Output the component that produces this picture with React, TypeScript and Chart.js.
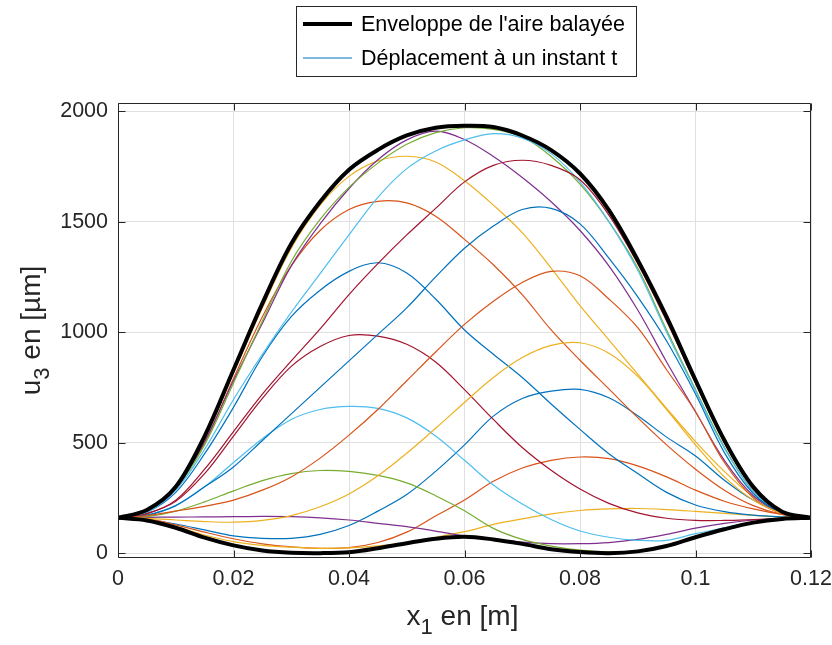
import React, { useEffect, useRef } from 'react';
import { Chart, registerables } from 'chart.js';

Chart.register(...registerables);

// x positions along the beam [m]
const xs = [0, 0.005, 0.01, 0.015, 0.02, 0.025, 0.03, 0.035, 0.04, 0.045, 0.05, 0.055, 0.06,
  0.065, 0.07, 0.075, 0.08, 0.085, 0.09, 0.095, 0.1, 0.105, 0.11, 0.115, 0.12];

// envelopes [µm]
const envUpper = [160, 195, 300, 530, 830, 1130, 1400, 1590, 1735, 1825, 1890, 1925, 1934, 1928, 1890, 1824, 1718, 1552, 1326, 1069, 783, 511, 300, 187, 160];
const envLower = [160, 148, 115, 70, 35, 12, 2, 0, 4, 22, 45, 65, 74, 62, 42, 18, 5, 0, 8, 32, 72, 108, 138, 155, 160];

// displacement at successive instants [µm]
const t1 = [160, 152, 132, 105, 78, 67, 67, 85, 125, 190, 265, 370, 490, 620, 700, 733, 741, 703, 622, 525, 440, 330, 240, 180, 160];
const t2 = [160, 155, 128, 95, 65, 42, 28, 22, 25, 48, 95, 168, 240, 325, 385, 420, 435, 428, 395, 345, 285, 235, 200, 175, 160];
const t3 = [160, 150, 120, 82, 52, 35, 27, 22, 24, 33, 48, 72, 97, 130, 155, 178, 193, 200, 202, 197, 189, 180, 171, 163, 160];
const t4 = [160, 162, 163, 164, 165, 166, 165, 160, 150, 135, 120, 100, 78, 62, 50, 43, 43, 48, 62, 85, 113, 135, 150, 157, 160];
const t5 = [160, 165, 190, 232, 282, 328, 360, 374, 370, 352, 318, 260, 192, 112, 62, 32, 14, 6, 10, 32, 72, 108, 138, 155, 160];
const t6 = [160, 172, 215, 300, 410, 518, 605, 650, 664, 655, 612, 530, 420, 308, 222, 152, 100, 72, 58, 58, 88, 115, 140, 155, 160];
const t7 = [160, 180, 235, 360, 530, 700, 845, 935, 985, 982, 945, 865, 740, 605, 478, 375, 290, 225, 182, 158, 148, 148, 152, 157, 160];
const t8 = [160, 185, 275, 450, 660, 890, 1070, 1190, 1275, 1314, 1268, 1150, 1010, 900, 795, 675, 560, 450, 360, 275, 218, 188, 172, 164, 160];
const t9 = [160, 190, 296, 500, 790, 1070, 1300, 1460, 1555, 1592, 1585, 1525, 1420, 1305, 1170, 1010, 873, 743, 613, 490, 380, 285, 215, 175, 160];
const t10 = [160, 192, 298, 515, 815, 1110, 1380, 1575, 1705, 1775, 1796, 1770, 1685, 1575, 1450, 1290, 1120, 965, 810, 655, 505, 370, 255, 185, 160];
const t11 = [160, 190, 295, 505, 780, 1040, 1300, 1490, 1650, 1780, 1870, 1910, 1872, 1795, 1700, 1590, 1460, 1300, 1100, 865, 640, 420, 260, 183, 160];
const t12 = [160, 188, 294, 490, 770, 1050, 1320, 1510, 1655, 1765, 1850, 1903, 1925, 1918, 1884, 1795, 1670, 1500, 1290, 1010, 740, 480, 280, 183, 160];
const t13 = [160, 185, 285, 470, 695, 900, 1090, 1265, 1440, 1610, 1740, 1820, 1870, 1898, 1878, 1808, 1680, 1500, 1280, 1000, 735, 475, 280, 183, 160];
const t14 = [160, 178, 240, 380, 550, 720, 870, 1015, 1170, 1310, 1440, 1560, 1680, 1755, 1778, 1755, 1690, 1530, 1310, 1050, 770, 500, 290, 185, 160];
const t15 = [160, 172, 215, 300, 390, 510, 630, 750, 870, 990, 1110, 1250, 1380, 1480, 1555, 1560, 1490, 1335, 1160, 960, 720, 455, 270, 182, 160];
const t16 = [160, 170, 190, 212, 240, 285, 345, 430, 534, 650, 780, 910, 1035, 1140, 1225, 1275, 1255, 1150, 1020, 830, 640, 410, 250, 178, 160];
const t17 = [160, 157, 150, 143, 140, 148, 170, 210, 268, 350, 452, 565, 682, 795, 885, 940, 952, 905, 800, 650, 490, 345, 240, 180, 160];

const curves = [t1, t2, t3, t4, t5, t6, t7, t8, t9, t10, t11, t12, t13, t14, t15, t16, t17];

const colorOrder = ['#0072BD', '#D95319', '#EDB120', '#7E2F8E', '#77AC30', '#4DBEEE', '#A2142F'];

const xTicks = [0, 0.02, 0.04, 0.06, 0.08, 0.1, 0.12];
const xTickLabels = ['0', '0.02', '0.04', '0.06', '0.08', '0.1', '0.12'];
const yTicks = [0, 500, 1000, 1500, 2000];
const yTickLabels = ['0', '500', '1000', '1500', '2000'];

const legendLabels = ["Enveloppe de l'aire balayée", 'Déplacement à un instant t'];
const xTitleParts: [string, boolean][] = [['x', false], ['1', true], [' en [m]', false]];
const yTitleParts: [string, boolean][] = [['u', false], ['3', true], [' en [µm]', false]];

const FONT = '"Liberation Sans", Arial, Helvetica, sans-serif';
const TEXT = '#262626';

const toPts = (ys: number[]) => xs.map((x, i) => ({ x, y: ys[i] }));

function drawRich(ctx: CanvasRenderingContext2D, parts: [string, boolean][], size: number) {
  const subSize = Math.round(size * 0.78);
  let total = 0;
  const widths = parts.map(([t, sub]) => {
    ctx.font = `${sub ? subSize : size}px ${FONT}`;
    const w = ctx.measureText(t).width;
    total += w;
    return w;
  });
  let cur = -total / 2;
  parts.forEach(([t, sub], i) => {
    ctx.font = `${sub ? subSize : size}px ${FONT}`;
    ctx.fillText(t, cur, sub ? size * 0.33 : 0);
    cur += widths[i];
  });
}

const framePlugin = {
  id: 'matlabFrame',
  afterDraw(chart: any) {
    const { ctx, chartArea } = chart;
    const { left, right, top, bottom } = chartArea;
    const xs_ = chart.scales.x;
    const ys_ = chart.scales.y;
    ctx.save();
    ctx.strokeStyle = TEXT;
    ctx.lineWidth = 1;
    const L = Math.round(left) + 0.5, R = Math.round(right) - 0.5;
    const T = Math.round(top) + 0.5, B = Math.round(bottom) - 0.5;
    ctx.beginPath();
    ctx.rect(L, T, R - L, B - T);
    const tl = 7;
    xTicks.forEach((v) => {
      const px = Math.round(xs_.getPixelForValue(v)) + 0.5;
      ctx.moveTo(px, B); ctx.lineTo(px, B - tl);
      ctx.moveTo(px, T); ctx.lineTo(px, T + tl);
    });
    yTicks.forEach((v) => {
      const py = Math.round(ys_.getPixelForValue(v)) + 0.5;
      ctx.moveTo(L, py); ctx.lineTo(L + tl, py);
      ctx.moveTo(R, py); ctx.lineTo(R - tl, py);
    });
    ctx.stroke();

    // axis titles
    ctx.fillStyle = TEXT;
    ctx.textBaseline = 'alphabetic';
    ctx.textAlign = 'left';
    ctx.save();
    ctx.translate((left + right) / 2 - 2, 625);
    drawRich(ctx, xTitleParts, 28);
    ctx.restore();
    ctx.save();
    ctx.translate(40, (top + bottom) / 2);
    ctx.rotate(-Math.PI / 2);
    drawRich(ctx, yTitleParts, 28);
    ctx.restore();

    // legend
    const bx = 296.5, by = 6.5, bw = 340, bh = 70;
    ctx.fillStyle = '#ffffff';
    ctx.fillRect(bx, by, bw, bh);
    ctx.strokeStyle = TEXT;
    ctx.lineWidth = 1;
    ctx.strokeRect(bx, by, bw, bh);
    ctx.font = `21px ${FONT}`;
    const wRef = ctx.measureText(legendLabels[0]).width;
    const legendSize = Math.min(23, 21 * 264 / wRef);
    const rows = [
      { y: 24, color: '#000000', w: 4 },
      { y: 58, color: colorOrder[0], w: 1.2 },
    ];
    rows.forEach((r, i) => {
      ctx.beginPath();
      ctx.strokeStyle = r.color;
      ctx.lineWidth = r.w;
      ctx.moveTo(303, r.y);
      ctx.lineTo(352, r.y);
      ctx.stroke();
      ctx.fillStyle = '#000000';
      ctx.font = `${legendSize}px ${FONT}`;
      ctx.textBaseline = 'middle';
      ctx.textAlign = 'left';
      ctx.fillText(legendLabels[i], 361, r.y + 1);
    });
    ctx.restore();
  },
};

export default function App() {
  const ref = useRef<HTMLCanvasElement | null>(null);
  useEffect(() => {
    if (!ref.current) return;
    const datasets: any[] = [
      { label: legendLabels[0], data: toPts(envUpper), borderColor: '#000000', borderWidth: 4, order: 0 },
      { label: legendLabels[0] + ' (min)', data: toPts(envLower), borderColor: '#000000', borderWidth: 4, order: 0 },
      ...curves.map((c, k) => ({
        label: legendLabels[1] + ' ' + (k + 1),
        data: toPts(c),
        borderColor: colorOrder[k % colorOrder.length],
        borderWidth: 1.2,
        order: 100 - k,
      })),
    ];
    const chart = new Chart(ref.current, {
      type: 'line',
      data: { datasets },
      options: {
        animation: false,
        responsive: false,
        events: [],
        layout: { padding: { left: 0, top: 103, right: 21, bottom: 0 } },
        elements: {
          point: { radius: 0 },
          line: { tension: 0.35, fill: false },
        },
        plugins: { legend: { display: false }, tooltip: { enabled: false } },
        scales: {
          x: {
            type: 'linear',
            min: 0,
            max: 0.12,
            afterBuildTicks: (s: any) => { s.ticks = xTicks.map((v) => ({ value: v })); },
            afterFit: (s: any) => { s.height = 87; s.paddingLeft = 0; s.paddingRight = 0; },
            ticks: {
              autoSkip: false,
              maxRotation: 0,
              padding: 8,
              color: TEXT,
              font: { family: FONT, size: 21.5 },
              callback: (v: any) => { const i = xTicks.findIndex((t) => Math.abs(t - v) < 1e-9); return i >= 0 ? xTickLabels[i] : ''; },
            },
            grid: { color: '#e0e0e0', drawTicks: false },
            border: { display: false },
          },
          y: {
            type: 'linear',
            min: -22,
            max: 2037,
            afterBuildTicks: (s: any) => { s.ticks = yTicks.map((v) => ({ value: v })); },
            afterFit: (s: any) => { s.width = 118; s.paddingTop = 0; s.paddingBottom = 0; },
            ticks: {
              autoSkip: false,
              padding: 10,
              color: TEXT,
              font: { family: FONT, size: 21.5 },
              callback: (v: any) => { const i = yTicks.indexOf(v); return i >= 0 ? yTickLabels[i] : ''; },
            },
            grid: { color: '#e0e0e0', drawTicks: false },
            border: { display: false },
          },
        },
      },
      plugins: [framePlugin],
    });
    return () => chart.destroy();
  }, []);
  return (
    <div style={{ position: 'fixed', left: 0, top: 0, width: 832, height: 645, background: '#ffffff' }}>
      <canvas ref={ref} width={832} height={645} style={{ width: 832, height: 645, display: 'block' }} />
    </div>
  );
}
